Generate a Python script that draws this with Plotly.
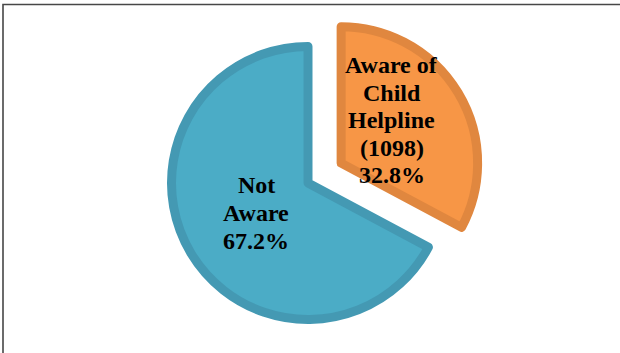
import plotly.graph_objects as go

# Awareness of the Child Helpline (1098)
labels = ["Aware of<br>Child<br>Helpline<br>(1098)", "Not<br>Aware"]
values = [32.8, 67.2]
fill_colors = ["#F79646", "#4BACC6"]
edge_colors = ["#E0873F", "#4499B3"]
pulls = [0.283, 0]

W, H = 620, 362
cx, cy = 308, 183          # pie centre in px (from top-left)
r = 136.5                  # pie radius in px
span = 2 * r * (1 + max(pulls))

fig = go.Figure(go.Pie(
    labels=labels,
    values=values,
    sort=False,
    direction="clockwise",
    rotation=0,
    pull=pulls,
    textinfo="none",
    hoverinfo="label+percent",
    showlegend=False,
    marker=dict(colors=fill_colors, line=dict(color=edge_colors, width=9)),
    domain=dict(
        x=[(cx - span / 2) / W, (cx + span / 2) / W],
        y=[1 - (cy + span / 2) / H, 1 - (cy - span / 2) / H],
    ),
))

# slice labels, one line per annotation for tight line spacing
label_pos = [(392, 65, 27.5), (256, 185, 28)]   # centre x, first-line y, line step
font = dict(family="Liberation Serif, Times New Roman, serif", size=24, color="black")
for lab, val, (x, y0, step) in zip(labels, values, label_pos):
    lines = lab.split("<br>") + [f"{val}%"]
    for i, line in enumerate(lines):
        fig.add_annotation(
            x=x / W, y=1 - (y0 + i * step) / H, xref="paper", yref="paper",
            text=f"<b>{line}</b>", showarrow=False, font=font,
            xanchor="center", yanchor="middle",
        )

# chart frame
fig.add_shape(type="rect", xref="paper", yref="paper",
              x0=3 / W, x1=1.05, y0=-0.1, y1=1 - 4.5 / H,
              line=dict(color="#474747", width=1.6))

fig.update_layout(
    width=W, height=H,
    margin=dict(l=0, r=0, t=0, b=0),
    paper_bgcolor="white",
    plot_bgcolor="white",
)

fig.write_html(
    "out.html",
    post_script="document.documentElement.style.overflow='hidden';document.body.style.overflow='hidden';",
)
